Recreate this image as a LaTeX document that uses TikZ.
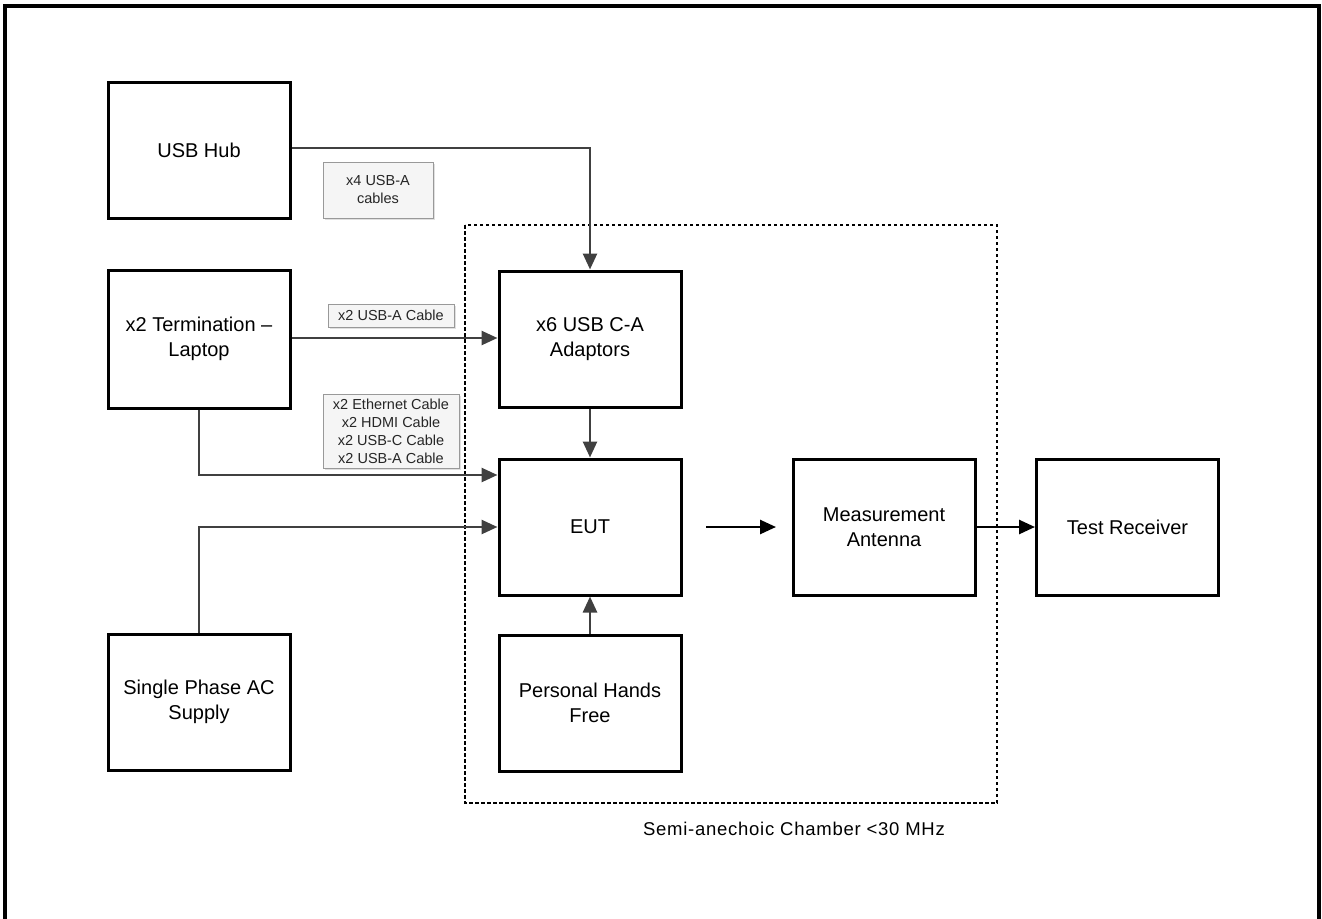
\documentclass[tikz,border=0pt]{standalone}
\usepackage{fontspec}
\setmainfont{Liberation Sans}
\usetikzlibrary{arrows.meta,shadows,calc}
\tikzset{
  blk/.style={draw=black, line width=3pt, minimum width=182pt, minimum height=136pt, inner sep=2pt, align=center, font=\fontsize{20}{25}\selectfont},
  conn/.style={draw=black!75, line width=2.6pt, -{Triangle[length=16pt,width=14pt]}},
  bconn/.style={draw=black, line width=2.6pt, -{Triangle[length=16pt,width=14pt]}},
  lbl/.style={draw=black!40, line width=0.8pt, fill=black!4, inner sep=0pt, align=center, text=black!85,
    font=\fontsize{14.5}{18}\selectfont,
    drop shadow={shadow xshift=2pt, shadow yshift=-2pt, fill=black!12, opacity=1}},
  chamber/.style={draw=black, line width=2.2pt, dash pattern=on 3.5pt off 2.5pt},
  frame/.style={draw=black, line width=4.5pt}
}
\begin{document}
\begin{tikzpicture}[x=1pt,y=-1pt]
\useasboundingbox (0,0) rectangle (1322,918);
% outer frame
\draw[frame] (5,930) -- (5,6) -- (1319,6) -- (1319,930);
% chamber
\draw[chamber] (465,225) rectangle (997,803);
\node[font=\fontsize{18.5}{22}\selectfont\addfontfeature{LetterSpace=4}, anchor=center] (chlbl) at (794,829) {Semi-anechoic Chamber \textless 30 MHz};
% blocks
\node[blk] (hub) at (199,150) {USB Hub};
\node[blk, minimum height=138pt] (term) at (199,339) {x2 Termination --\\Laptop};
\node[blk] (sup) at (199,702) {Single Phase AC\\Supply};
\node[blk] (adapt) at (590,339) {x6 USB C-A\\Adaptors};
\node[blk] (eut) at (590,527) {EUT};
\node[blk] (pers) at (590,703) {Personal Hands\\Free};
\node[blk] (meas) at (884,527) {Measurement\\Antenna};
\node[blk] (recv) at (1127.5,527) {Test Receiver};
% labels
\node[lbl, minimum width=110pt, minimum height=56pt] (l1) at (378,190) {x4 USB-A\\cables};
\node[lbl, minimum width=126pt, minimum height=23pt] (l2) at (391,315.5) {x2 USB-A Cable};
\node[lbl, minimum width=136pt, minimum height=74pt] (l3) at (391,431) {x2 Ethernet Cable\\x2 HDMI Cable\\x2 USB-C Cable\\x2 USB-A Cable};
% connectors
\coordinate (eutin1) at ([yshift=52pt]eut.west);
\coordinate (fa) at (706,527);
\coordinate (fb) at (776,527);
\draw[conn] ([yshift=2pt]hub.east) -| (adapt.north);
\draw[conn] ([yshift=1pt]term.east) -- ([yshift=1pt]adapt.west);
\draw[conn] (term.south) |- (eutin1);
\draw[conn] (sup.north) |- (eut.west);
\draw[conn] (adapt.south) -- (eut.north);
\draw[conn] (pers.north) -- (eut.south);
\draw[bconn] (fa) -- (fb);
\draw[bconn] (meas.east) -- (recv.west);
\end{tikzpicture}
\end{document}
